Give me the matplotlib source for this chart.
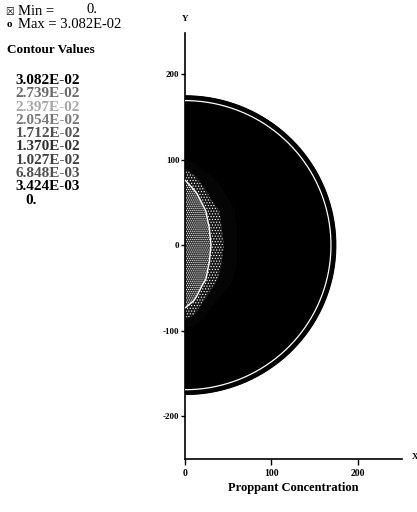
import numpy as np
import matplotlib.pyplot as plt

plt.rcParams['font.family'] = ['Liberation Serif', 'DejaVu Serif']
plt.rcParams['hatch.color'] = 'white'
plt.rcParams['hatch.linewidth'] = 0.5
plt.rcParams['axes.unicode_minus'] = False

# contour levels and legend
levels = [0., 3.424e-3, 6.848e-3, 1.027e-2, 1.370e-2, 1.712e-2, 2.054e-2, 2.397e-2, 2.739e-2, 3.082e-2]
level_labels = ['3.082E-02', '2.739E-02', '2.397E-02', '2.054E-02', '1.712E-02',
                '1.370E-02', '1.027E-02', '6.848E-03', '3.424E-03', '0.']
label_colors = ['#000000', '#6a6a6a', '#a8a8a8', '#7a7a7a', '#505050',
                '#303030', '#404040', '#505050', '#000000', '#000000']
c_min, c_max = 0., 3.082e-2

# fracture outline (radius) and tip contour
frac_radius = 174.
tip_radius = 169.

# concentration near the wellbore (x 1e-2)
x_grid = [0, 10, 20, 30, 40, 50, 60, 70]
y_grid = [-100, -80, -60, -40, -20, 0, 20, 40, 60, 80, 100]
conc = [
    [1.60, 1.55, 1.50, 1.50, 1.50, 1.50, 1.50, 1.50],
    [2.30, 2.10, 1.80, 1.60, 1.50, 1.50, 1.50, 1.50],
    [2.60, 2.50, 2.20, 1.90, 1.70, 1.60, 1.50, 1.50],
    [2.65, 2.60, 2.50, 2.25, 2.00, 1.80, 1.60, 1.50],
    [2.65, 2.65, 2.60, 2.35, 2.10, 1.90, 1.70, 1.50],
    [2.65, 2.65, 2.60, 2.40, 2.15, 1.95, 1.70, 1.50],
    [2.65, 2.65, 2.60, 2.35, 2.10, 1.90, 1.70, 1.50],
    [2.65, 2.60, 2.50, 2.25, 2.05, 1.85, 1.65, 1.50],
    [2.60, 2.50, 2.25, 1.95, 1.80, 1.65, 1.55, 1.50],
    [2.35, 2.10, 1.85, 1.70, 1.60, 1.55, 1.50, 1.50],
    [1.70, 1.60, 1.50, 1.50, 1.50, 1.50, 1.50, 1.50],
]

fig = plt.figure(figsize=(4.17, 5.12), dpi=100)
ax = fig.add_axes([0.4436, 0.1035, 0.520, 0.832])

# black fracture body
th = np.linspace(-np.pi / 2, np.pi / 2, 300)
ax.fill(frac_radius * np.cos(th), frac_radius * np.sin(th), color='black', zorder=1)
ax.plot(frac_radius * np.cos(th), frac_radius * np.sin(th), color='black', lw=1.6, zorder=4)
ax.plot(tip_radius * np.cos(th), tip_radius * np.sin(th), color='white', lw=0.9, zorder=4)

# stippled high-concentration zone
Z = np.array(conc) * 1e-2
band_colors = ['black'] * 5 + ['#050505', '#161616', '#303030', '#303030']
band_hatch = [None] * 5 + [None, '......', '........', '........']
ax.contourf(x_grid, y_grid, Z, levels=levels, colors=band_colors, hatches=band_hatch, zorder=2)
ax.contour(x_grid, y_grid, Z, levels=[levels[7]], colors='white', linewidths=1.0, zorder=3)

ax.set_xlim(0, 251)
ax.set_ylim(-250, 248)
for s in ['top', 'right']:
    ax.spines[s].set_visible(False)
ax.spines['left'].set_linewidth(1.2)
ax.spines['bottom'].set_linewidth(1.2)
ax.set_xticks([0, 100, 200])
ax.set_yticks([-200, -100, 0, 100, 200])
ax.tick_params(axis='y', length=3, width=1, labelsize=6.5, pad=1)
ax.tick_params(axis='x', length=4, width=1, labelsize=7, pad=3)
for lab in ax.get_xticklabels() + ax.get_yticklabels():
    lab.set_fontweight('bold')

fig.text(0.4436, 0.962, 'Y', ha='center', va='center', fontsize=6.5, fontweight='bold')
fig.text(0.995, 0.107, 'X', ha='center', va='center', fontsize=6.5, fontweight='bold')
fig.text(0.703, 0.047, 'Proppant Concentration', ha='center', va='center', fontsize=9, fontweight='bold')

# min / max header
fig.text(0.022, 0.977, '\u2612', ha='center', va='center', fontsize=7, family=['DejaVu Sans'])
fig.text(0.022, 0.953, 'o', ha='center', va='center', fontsize=8, fontweight='bold')
fig.text(0.043, 0.977, 'Min =', ha='left', va='center', fontsize=10.5)
fig.text(0.208, 0.981, '%g.' % c_min, ha='left', va='center', fontsize=10.5)
fig.text(0.043, 0.953, 'Max = %.3E' % c_max, ha='left', va='center', fontsize=10.5)
fig.text(0.017, 0.902, 'Contour Values', ha='left', va='center', fontsize=9.5, fontweight='bold')

for i, (t, c) in enumerate(zip(level_labels, label_colors)):
    x0 = 0.06 if t == '0.' else 0.038
    fig.text(x0, 0.843 - i * 0.026, t, ha='left', va='center', fontsize=11,
             fontweight='bold', color=c)

fig.savefig('out.png', dpi=100)
